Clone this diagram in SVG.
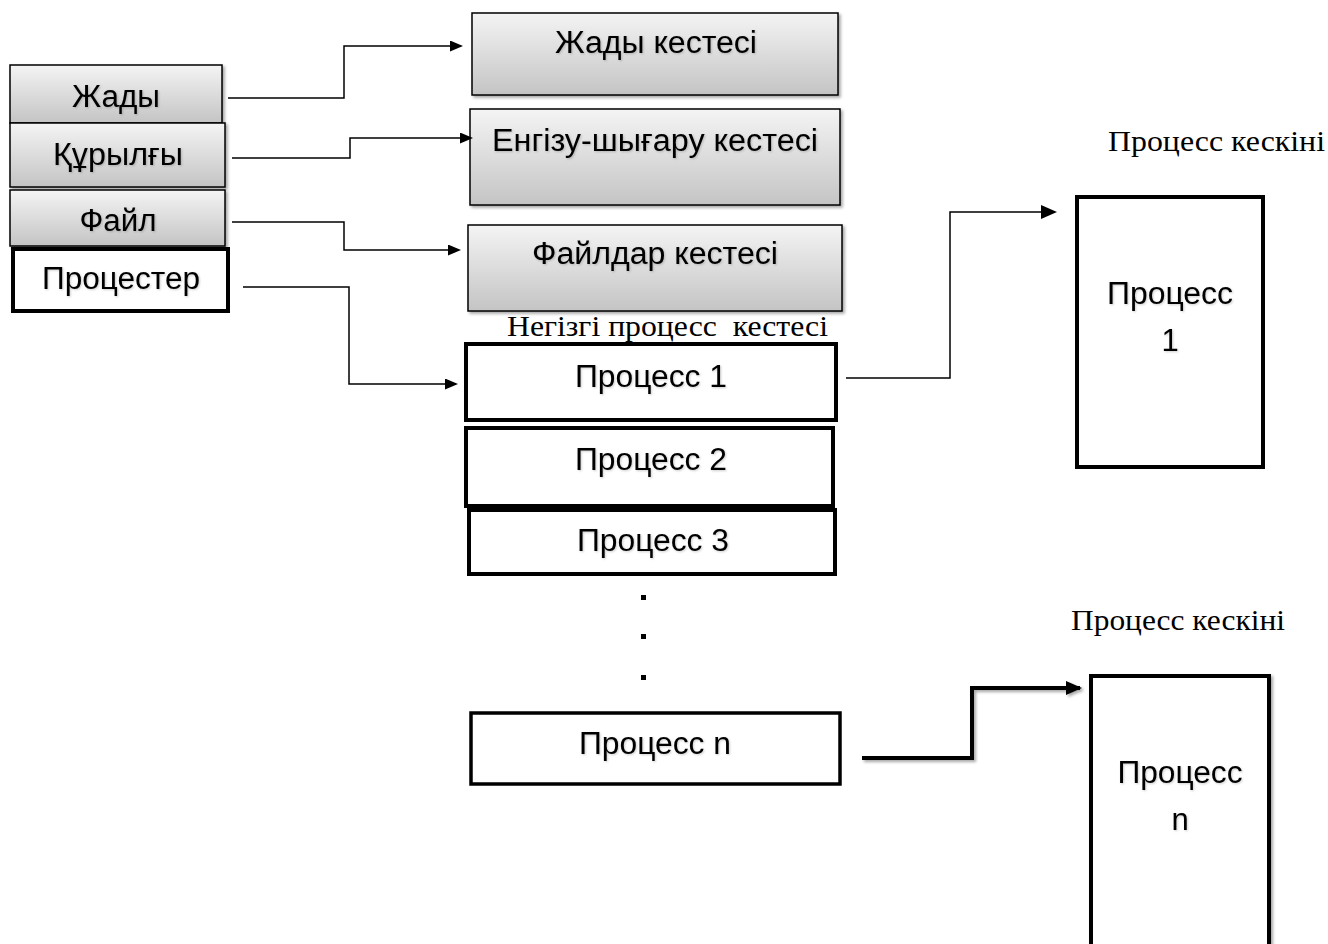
<svg xmlns="http://www.w3.org/2000/svg" width="1328" height="944" viewBox="0 0 1328 944">
<defs>
<linearGradient id="g" x1="0" y1="0" x2="0" y2="1">
<stop offset="0" stop-color="#f4f4f4"/>
<stop offset="1" stop-color="#c4c4c4"/>
</linearGradient>
<filter id="sh" x="-10%" y="-10%" width="130%" height="130%">
<feDropShadow dx="2" dy="2" stdDeviation="1.5" flood-color="#000" flood-opacity="0.35"/>
</filter>
<filter id="tsh" x="-5%" y="-20%" width="115%" height="150%">
<feDropShadow dx="1" dy="1" stdDeviation="0.8" flood-color="#000" flood-opacity="0.2"/>
</filter>
<marker id="ar" markerWidth="13" markerHeight="11" refX="11" refY="5.5" orient="auto" markerUnits="userSpaceOnUse" viewBox="0 0 13 11">
<path d="M0,0 L13,5.5 L0,11 z" fill="#000"/>
</marker>
<marker id="ar2" markerWidth="16" markerHeight="16" refX="14" refY="8" orient="auto" markerUnits="userSpaceOnUse" viewBox="0 0 16 16">
<path d="M0,1 L16,8 L0,15 z" fill="#000"/>
</marker>
</defs>
<style>
.gb{fill:url(#g);stroke:#000;stroke-width:1.5}
.wb{fill:#fff;stroke:#000;stroke-width:4}
.t{font-family:"Liberation Sans",Arial,sans-serif;font-size:31px;fill:#000;text-anchor:middle;filter:url(#tsh)}
.s{font-family:"Liberation Serif","Times New Roman",serif;font-size:30px;fill:#000}
.c{fill:none;stroke:#000;stroke-width:1.5}
.ct{fill:none;stroke:#000;stroke-width:4}
</style>
<g id="n-zhady" filter="url(#sh)"><rect class="gb" x="10" y="65" width="212" height="58"/><text class="t" x="116" y="107" textLength="88" lengthAdjust="spacingAndGlyphs">Жады</text></g>
<g id="n-qurylgy" filter="url(#sh)"><rect class="gb" x="10" y="123" width="215" height="64"/><text class="t" x="118" y="165" textLength="130" lengthAdjust="spacingAndGlyphs">Құрылғы</text></g>
<g id="n-fail" filter="url(#sh)"><rect class="gb" x="10" y="190" width="215" height="56"/><text class="t" x="118" y="231" textLength="77" lengthAdjust="spacingAndGlyphs">Файл</text></g>
<g id="n-procester"><rect class="wb" x="13" y="249" width="215" height="62"/><text class="t" x="121" y="289" textLength="158" lengthAdjust="spacingAndGlyphs">Процестер</text></g>

<g id="n-zhady-k" filter="url(#sh)"><rect class="gb" x="472" y="13" width="366" height="82"/><text class="t" x="656" y="53" textLength="202" lengthAdjust="spacingAndGlyphs">Жады кестесі</text></g>
<g id="n-engizu-k" filter="url(#sh)"><rect class="gb" x="470" y="109" width="370" height="96"/><text class="t" x="655" y="151" textLength="326" lengthAdjust="spacingAndGlyphs">Енгізу-шығару кестесі</text></g>
<g id="n-fail-k" filter="url(#sh)"><rect class="gb" x="468" y="225" width="374" height="86"/><text class="t" x="655" y="264" textLength="246" lengthAdjust="spacingAndGlyphs">Файлдар кестесі</text></g>
<g id="lbl-negizgi"><text class="s" x="507" y="336" font-size="28" textLength="321" lengthAdjust="spacingAndGlyphs" xml:space="preserve">Негізгі процесс  кестесі</text></g>

<g id="n-p1"><rect class="wb" x="466" y="344" width="370" height="76"/><text class="t" x="651" y="387" textLength="152" lengthAdjust="spacingAndGlyphs">Процесс 1</text></g>
<g id="n-p2"><rect class="wb" x="466" y="428" width="367" height="78"/><text class="t" x="651" y="470" textLength="152" lengthAdjust="spacingAndGlyphs">Процесс 2</text></g>
<g id="n-p3"><rect class="wb" x="469" y="510" width="366" height="64"/><text class="t" x="653" y="551" textLength="152" lengthAdjust="spacingAndGlyphs">Процесс 3</text></g>
<g id="dots"><rect x="641" y="595" width="5" height="5" fill="#000"/><rect x="641" y="634" width="5" height="5" fill="#000"/><rect x="641" y="675" width="5" height="5" fill="#000"/></g>
<g id="n-pn"><rect fill="#fff" stroke="#000" stroke-width="3.5" x="471" y="713" width="369" height="71"/><text class="t" x="655" y="754" textLength="152" lengthAdjust="spacingAndGlyphs">Процесс n</text></g>

<g id="lbl-keskini1"><text class="s" x="1108" y="151" textLength="217" lengthAdjust="spacingAndGlyphs">Процесс кескіні</text></g>
<g id="n-img1"><rect class="wb" x="1077" y="197" width="186" height="270"/><text class="t" x="1170" y="304" textLength="126" lengthAdjust="spacingAndGlyphs">Процесс</text><text class="t" x="1170" y="351">1</text></g>
<g id="lbl-keskinin"><text class="s" x="1071" y="630" textLength="214" lengthAdjust="spacingAndGlyphs">Процесс кескіні</text></g>
<g id="n-imgn" filter="url(#sh)"><rect class="wb" x="1091" y="676" width="178" height="272"/><text class="t" x="1180" y="783" textLength="125" lengthAdjust="spacingAndGlyphs">Процесс</text><text class="t" x="1180" y="830">n</text></g>

<g id="connectors">
<path class="c" d="M228,98 H344 V46 H461" marker-end="url(#ar)"/>
<path class="c" d="M232,158 H350 V138 H471" marker-end="url(#ar)"/>
<path class="c" d="M232,222 H344 V250 H459" marker-end="url(#ar)"/>
<path class="c" d="M243,287 H349 V384 H456" marker-end="url(#ar)"/>
<path class="c" d="M846,378 H950 V212 H1055" marker-end="url(#ar2)"/>
<path class="ct" d="M862,758 H972 V688 H1080" marker-end="url(#ar2)" filter="url(#sh)"/>
</g>
</svg>
